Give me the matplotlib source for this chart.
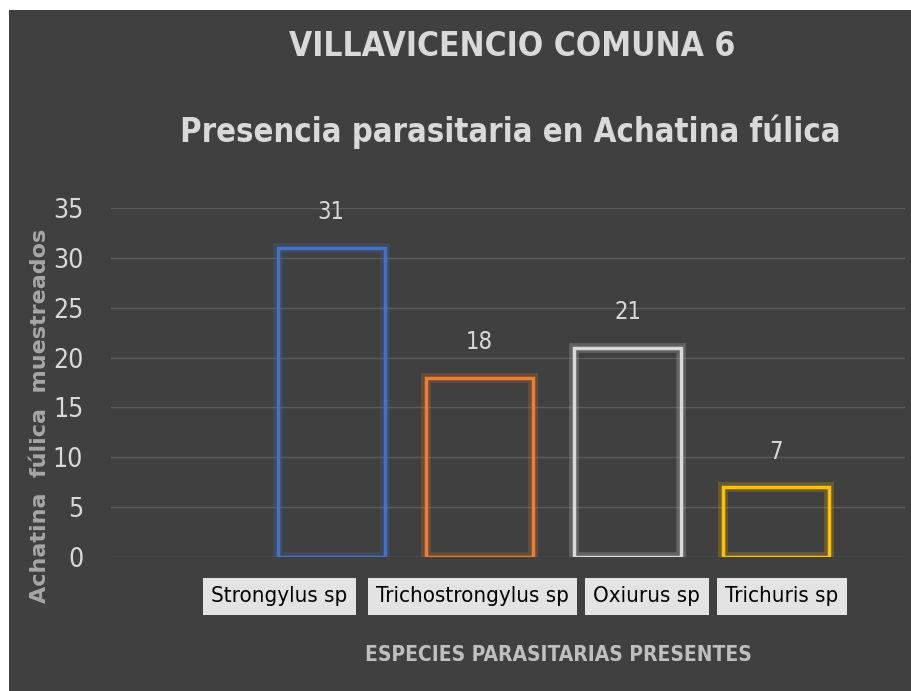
import matplotlib.pyplot as plt
import matplotlib.transforms as mtransforms
from matplotlib.patches import Rectangle

# data
especies = ['Strongylus sp', 'Trichostrongylus sp', 'Oxiurus sp', 'Trichuris sp']
valores = [31, 18, 21, 7]
colores = ['#4472c4', '#ed7d31', '#d9d9d9', '#ffc000']
yticks = [0, 5, 10, 15, 20, 25, 30, 35]

plt.rcParams['font.family'] = ['DejaVu Sans']
plt.rcParams['font.stretch'] = 'condensed'

W, H = 911, 691
fig = plt.figure(figsize=(W / 100, H / 100), dpi=100)
fig.patch.set_facecolor('white')
# fondo oscuro del grafico
fig.patches.append(Rectangle((9 / W, 0), 1 - 9 / W, 1 - 10 / H, transform=fig.transFigure,
                             facecolor='#404040', edgecolor='none', zorder=-1))

ax = fig.add_axes([111 / W, (H - 557) / H, 794 / W, 349 / H])
ax.set_zorder(2)
ax.set_facecolor('none')
for s in ax.spines.values():
    s.set_visible(False)

x = list(range(len(especies)))
# barras con contorno y brillo
for i in x:
    ax.bar(i, valores[i], width=0.72, facecolor='none', edgecolor=colores[i],
           linewidth=7, alpha=0.22, zorder=2)
    ax.bar(i, valores[i], width=0.72, facecolor='none', edgecolor=colores[i],
           linewidth=2.5, zorder=3)
    ax.annotate(str(valores[i]), (i, valores[i]), xytext=(0, 17), textcoords='offset points',
                ha='center', va='bottom', color='#d9d9d9', fontsize=17)

ax.set_xlim(-1.486, 3.87)
ax.set_ylim(0, 35)
ax.set_yticks(yticks)
ax.yaxis.grid(True, color='#5a5a5a', linewidth=1)
ax.set_axisbelow(True)
ax.tick_params(axis='y', length=0, pad=20, labelcolor='#d9d9d9', labelsize=19)

ax.set_xticks(x)
ax.set_xticklabels(especies)
ax.tick_params(axis='x', length=0, pad=21, labelcolor='black', labelsize=16)
desp = [-52, -7, 19, 6]
for lab, d in zip(ax.get_xticklabels(), desp):
    lab.set_bbox(dict(facecolor='#e3e3e3', edgecolor='none', boxstyle='square,pad=0.38'))
    lab.set_transform(lab.get_transform() + mtransforms.ScaledTranslation(d / 100, 0, fig.dpi_scale_trans))

fig.text(512 / W, 1 - 47 / H, 'VILLAVICENCIO COMUNA 6', ha='center', va='center',
         color='#d9d9d9', fontsize=24, fontweight='semibold')
fig.text(510 / W, 1 - 132 / H, 'Presencia parasitaria en Achatina fúlica', ha='center', va='center',
         color='#d9d9d9', fontsize=23.5, fontweight='semibold')
fig.text(558 / W, 1 - 655 / H, 'ESPECIES PARASITARIAS PRESENTES', ha='center', va='center',
         color='#bfbfbf', fontsize=15, fontweight='bold')
fig.text(40 / W, 1 - 416 / H, 'Achatina  fúlica  muestreados', ha='center', va='center',
         rotation=90, color='#a6a6a6', fontsize=16, fontweight='bold', fontstretch='normal')

fig.savefig('out.png', dpi=100)
